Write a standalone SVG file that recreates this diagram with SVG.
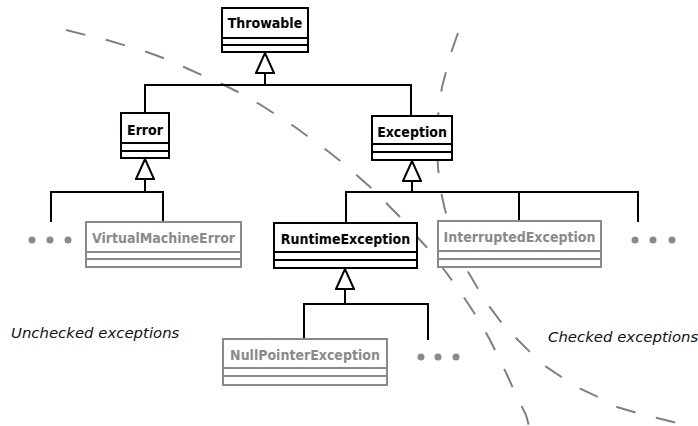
<svg xmlns="http://www.w3.org/2000/svg" width="698" height="426" viewBox="0 0 698 426">
  <style>
    .box { fill: #fff; stroke: #000; stroke-width: 2; }
    .box-dim { fill: #fff; stroke: #8a8a8a; stroke-width: 2; }
    .sep { stroke: #000; stroke-width: 2; }
    .sep-dim { stroke: #8a8a8a; stroke-width: 2; }
    .name { font-family: "DejaVu Sans Condensed", "DejaVu Sans", sans-serif; font-stretch: condensed; font-weight: bold; font-size: 14px; text-anchor: middle; fill: #000; }
    .name-dim { fill: #8a8a8a; }
    .link { fill: none; stroke: #000; stroke-width: 2; }
    .more { fill: #8a8a8a; }
    .zone { fill: none; stroke: #808080; stroke-width: 2; stroke-dasharray: 20 21; }
    .area { font-family: "DejaVu Sans", sans-serif; font-style: italic; font-size: 14.9px; fill: #111; }
  </style>
  <defs>
    <!-- hollow generalization arrowhead -->
    <marker id="inherit" viewBox="-1 -1 22 20" refX="20" refY="9" markerWidth="22" markerHeight="20" markerUnits="userSpaceOnUse" orient="auto">
      <path d="M0,0 L20,9 L0,18 Z" fill="#fff" stroke="#000" stroke-width="2" stroke-linejoin="miter"/>
    </marker>
  </defs>

  <!-- region boundaries -->
  <g id="boundaries">
    <polyline class="zone" points="66,30 86,35 107,40 127,46 147,52 166,59 186,68 204,76 224,85 242,94 261,105 278,116 295,127 329,152 344,164 361,179 376,192 391,208 405,222 419,239 432,253 445,271 457,287 469,305 480,322 490,340 499,358 508,377 517,397 526,415 529,426"/>
    <polyline class="zone" points="458,33 452,50 447,68 442,87 439,108 437,125 437,150 438,168 441,192 445,210 453,235 458,248 467,270 477,287 489,306 501,322 515,337 530,352 545,366 563,378 579,388 598,397 617,407 637,413 657,418 690,426"/>
  </g>

  <!-- inheritance connectors -->
  <g id="connectors">
    <path class="link" d="M145,113 V85 H411 V116"/>
    <path class="link" d="M265,85 V53" marker-end="url(#inherit)"/>
    <path class="link" d="M51,222 V192 H163 V222"/>
    <path class="link" d="M145,192 V159" marker-end="url(#inherit)"/>
    <path class="link" d="M346,223 V192 H638 V222"/>
    <path class="link" d="M519,192 V221"/>
    <path class="link" d="M412,192 V161" marker-end="url(#inherit)"/>
    <path class="link" d="M304,339 V304 H428 V340"/>
    <path class="link" d="M345,304 V269" marker-end="url(#inherit)"/>
  </g>

  <g id="throwable">
    <rect class="box" x="222" y="8" width="86" height="44"/>
    <line class="sep" x1="222" y1="38" x2="308" y2="38"/>
    <line class="sep" x1="222" y1="45" x2="308" y2="45"/>
    <text class="name" x="265" y="28">Throwable</text>
  </g>

  <g id="error">
    <rect class="box" x="121" y="113" width="48" height="45"/>
    <line class="sep" x1="121" y1="143" x2="169" y2="143"/>
    <line class="sep" x1="121" y1="151" x2="169" y2="151"/>
    <text class="name" x="145" y="135">Error</text>
  </g>

  <g id="exception">
    <rect class="box" x="372" y="116" width="80" height="44"/>
    <line class="sep" x1="372" y1="144" x2="452" y2="144"/>
    <line class="sep" x1="372" y1="152" x2="452" y2="152"/>
    <text class="name" x="412" y="137">Exception</text>
  </g>

  <g id="virtual-machine-error">
    <rect class="box-dim" x="86" y="222" width="155" height="45"/>
    <line class="sep-dim" x1="86" y1="252" x2="241" y2="252"/>
    <line class="sep-dim" x1="86" y1="259" x2="241" y2="259"/>
    <text class="name name-dim" x="163.5" y="243">VirtualMachineError</text>
  </g>

  <g id="runtime-exception">
    <rect class="box" x="274" y="223" width="143" height="45"/>
    <line class="sep" x1="274" y1="252" x2="417" y2="252"/>
    <line class="sep" x1="274" y1="260" x2="417" y2="260"/>
    <text class="name" x="345.5" y="244">RuntimeException</text>
  </g>

  <g id="interrupted-exception">
    <rect class="box-dim" x="438" y="221" width="163" height="46"/>
    <line class="sep-dim" x1="438" y1="251" x2="601" y2="251"/>
    <line class="sep-dim" x1="438" y1="259" x2="601" y2="259"/>
    <text class="name name-dim" x="519.5" y="242">InterruptedException</text>
  </g>

  <g id="null-pointer-exception">
    <rect class="box-dim" x="223" y="339" width="164" height="46"/>
    <line class="sep-dim" x1="223" y1="368" x2="387" y2="368"/>
    <line class="sep-dim" x1="223" y1="376" x2="387" y2="376"/>
    <text class="name name-dim" x="305" y="360">NullPointerException</text>
  </g>

  <g id="more-errors">
    <circle class="more" cx="32" cy="240" r="3.5"/>
    <circle class="more" cx="50" cy="240" r="3.5"/>
    <circle class="more" cx="68" cy="240" r="3.5"/>
  </g>
  <g id="more-exceptions">
    <circle class="more" cx="635" cy="240" r="3.5"/>
    <circle class="more" cx="653" cy="240" r="3.5"/>
    <circle class="more" cx="672" cy="240" r="3.5"/>
  </g>
  <g id="more-runtime">
    <circle class="more" cx="421" cy="357" r="3.5"/>
    <circle class="more" cx="438" cy="357" r="3.5"/>
    <circle class="more" cx="456" cy="357" r="3.5"/>
  </g>

  <text class="area" x="11" y="338">Unchecked exceptions</text>
  <text class="area" x="548" y="342">Checked exceptions</text>
</svg>
